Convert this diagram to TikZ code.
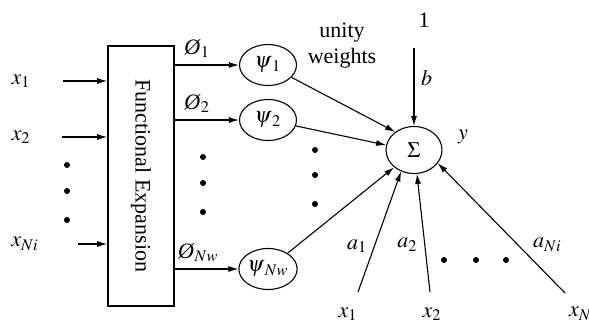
\documentclass[tikz,border=0pt]{standalone}
\usepackage{amsmath}
\usepackage{mathptmx}
\usepackage{fontspec}
\setmainfont{Liberation Serif}
\usepackage{tikz}
\usetikzlibrary{shapes.geometric, arrows.meta}

\begin{document}
\begin{tikzpicture}[x=0.5pt, y=-0.5pt, line width=0.55pt,
    >={Latex[length=5pt,width=3pt]},
    every node/.style={font=\fontsize{11}{13}\selectfont},
    unit/.style={draw, ellipse, minimum width=28.5pt, minimum height=20.5pt, inner sep=0pt}]
    \useasboundingbox (0,0) rectangle (589,322);
    % expansion block and its inputs
    \node[draw, line width=0.8pt, minimum width=33pt, minimum height=130pt, inner sep=0pt] (fe) at (141,176) {\rotatebox{-90}{Functional Expansion}};
    \node (in1) at (21,81) {$x_1$};
    \node (in2) at (21,137) {$x_2$};
    \node (inN) at (25,244) {$x_{Ni}$};
    \coordinate (s1) at (63,81);
    \coordinate (s2) at (62,137);
    \coordinate (sN) at (78,244);
    \draw[->] (s1) -- (s1 -| fe.west);
    \draw[->] (s2) -- (s2 -| fe.west);
    \draw[->] (sN) -- (sN -| fe.west);
    \foreach \y in {165,191,220} \fill (67,\y) circle (1.5pt);
    % expanded terms
    \node[unit] (p1) at (268,65) {$\psi_{\kern1.2pt 1}$};
    \node[unit] (p2) at (268,120) {$\psi_{\kern1.2pt 2}$};
    \node[unit] (pN) at (268,269) {$\psi_{\kern1.2pt Nw}$};
    \draw[->] (fe.east |- p1) -- node[above, pos=0.35] {\textit{\O}$_1$} (p1);
    \draw[->] (fe.east |- p2) -- node[above, pos=0.35] {\textit{\O}$_2$} (p2);
    \draw[->] (fe.east |- pN) -- node[above, pos=0.37] {\textit{\O}$_{Nw}$} (pN);
    \foreach \y in {157,183,212} \fill (203,\y) circle (1.5pt);
    % summing node
    \node[unit, minimum width=28pt, minimum height=23.5pt] (sig) at (414,150) {$\Sigma$};
    \node (one) at (424,20) {1};
    \coordinate (bt) at (414,48);
    \draw[->] (bt) -- node[right, pos=0.38] {$b$} (sig.north);
    \node (out) at (463,137) {$y$};
    \node[align=center] (uw) at (342,46) {unity\\weights};
    \draw[->] (p1) -- (sig.136);
    \draw[->] (p2) -- (sig.170);
    \draw[->] (pN) -- (sig.221);
    \foreach \y in {150,175,204} \fill (315,\y) circle (1.5pt);
    % direct inputs
    \node (b1) at (348,314) {$x_1$};
    \node (b2) at (432,314) {$x_2$};
    \node[anchor=west] (bN) at (562,314) {$x_N$};
    \coordinate (t1) at (358,292);
    \coordinate (t2) at (430,292);
    \coordinate (tN) at (565,293);
    \draw[->] (t1) -- node[left, pos=0.38] {$a_1$} (sig.239);
    \draw[->] (t2) -- node[left, pos=0.4] {$a_2$} (sig.277);
    \draw[->] (tN) -- node[right=4pt, pos=0.37] {$a_{Ni}$} (sig.331);
    \foreach \x in {444,476,506} \fill (\x,260) circle (1.5pt);
\end{tikzpicture}
\end{document}
